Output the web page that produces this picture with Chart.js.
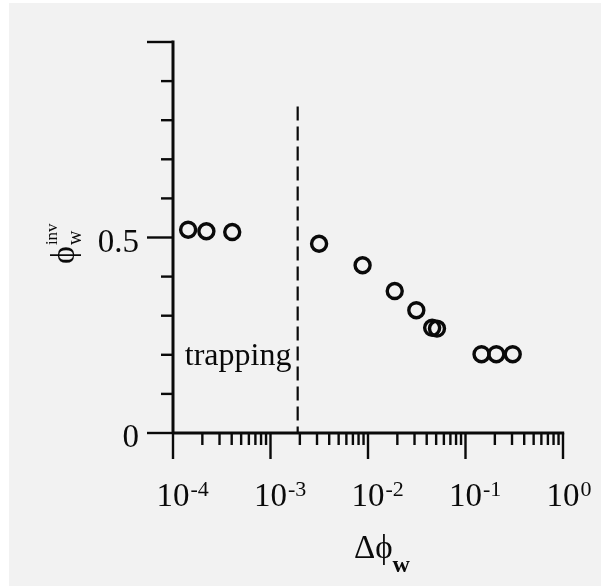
<!DOCTYPE html>
<html>
<head>
<meta charset="utf-8">
<script src="https://cdn.jsdelivr.net/npm/chart.js@4/dist/chart.umd.min.js"></script>
<style>
    html, body { margin: 0; padding: 0; background: #ffffff; }
    #frame { position: absolute; left: 9px; top: 3px; width: 592px; height: 583px; background: #f2f2f2; }
    #plot { position: absolute; left: 0; top: 0; }
</style>
</head>
<body>
<div id="frame"></div>
<canvas id="plot" width="601" height="586"></canvas>
<script>
// measured points (delta phi_w vs phi_w^inv)
const deltaPhi = [1.43e-4, 2.2e-4, 4.05e-4, 3.15e-3, 8.8e-3, 1.88e-2, 3.13e-2, 4.55e-2, 5.1e-2, 0.146, 0.207, 0.305];
const phiInv   = [0.520, 0.516, 0.514, 0.484, 0.429, 0.363, 0.314, 0.269, 0.267, 0.2015, 0.2015, 0.2015];

// axes
const xDecades = [1e-4, 1e-3, 1e-2, 1e-1, 1];
const xExponents = ['-4', '-3', '-2', '-1', '0'];
const xMinorSteps = [2, 3, 4, 5, 6, 7, 8, 9];
const yTickValues = [0, 0.1, 0.2, 0.3, 0.4, 0.5, 0.6, 0.7, 0.8, 0.9, 1.0];
const yMajorValues = [0, 0.5, 1.0];
const yLabelValues = [0, 0.5];
const yLabels = ['0', '0.5'];

// the "trapping" threshold
const trapX = 1.9e-3;
const trapTop = 0.835;
const trapLabel = 'trapping';
const trapLabelAt = { x: 1.32e-4, y: 0.1735 };

const INK = '#0a0a0a';
const SERIF = '"Liberation Serif", "Times New Roman", serif';

/**
 * Axes, ticks, labels and the dashed threshold, all placed via the chart scales
 */
const axesPlugin = {
    id: 'paperAxes',
    beforeDatasetsDraw(chart) {
        const ctx = chart.ctx;
        const xs = chart.scales.x;
        const ys = chart.scales.y;
        const left = chart.chartArea.left;
        const right = chart.chartArea.right;
        const top = chart.chartArea.top;
        const bottom = chart.chartArea.bottom;
        const major = 26, minor = 12;

        ctx.save();
        ctx.strokeStyle = INK;
        ctx.lineWidth = 3;
        ctx.lineCap = 'butt';

        // axis lines
        ctx.beginPath();
        ctx.moveTo(left, top - 1.5);
        ctx.lineTo(left, bottom);
        ctx.moveTo(left, bottom);
        ctx.lineTo(right + 1.2, bottom);
        ctx.stroke();

        // y ticks (pointing left)
        ctx.lineWidth = 2.4;
        yTickValues.forEach(v => {
            const y = ys.getPixelForValue(v);
            const len = yMajorValues.includes(v) ? major : minor;
            ctx.beginPath();
            ctx.moveTo(left - len, y);
            ctx.lineTo(left, y);
            ctx.stroke();
        });

        // x ticks (pointing down)
        xDecades.forEach((d, i) => {
            const x = xs.getPixelForValue(d);
            ctx.beginPath();
            ctx.moveTo(x, bottom);
            ctx.lineTo(x, bottom + major);
            ctx.stroke();
            if (i < xDecades.length - 1) {
                xMinorSteps.forEach(m => {
                    const xm = xs.getPixelForValue(d * m);
                    ctx.beginPath();
                    ctx.moveTo(xm, bottom);
                    ctx.lineTo(xm, bottom + minor);
                    ctx.stroke();
                });
            }
        });

        // dashed threshold line
        ctx.setLineDash([14, 6]);
        ctx.lineWidth = 2.2;
        const tx = xs.getPixelForValue(trapX);
        ctx.beginPath();
        ctx.moveTo(tx, ys.getPixelForValue(trapTop));
        ctx.lineTo(tx, bottom);
        ctx.stroke();
        ctx.setLineDash([]);

        ctx.fillStyle = INK;

        // x tick labels: 10 with superscript exponent
        xDecades.forEach((d, i) => {
            const x = xs.getPixelForValue(d);
            ctx.font = '33px ' + SERIF;
            ctx.textAlign = 'center';
            ctx.textBaseline = 'alphabetic';
            ctx.fillText('10', x, bottom + 73);
            const half = ctx.measureText('10').width / 2;
            ctx.font = '22px ' + SERIF;
            ctx.textAlign = 'left';
            ctx.fillText(xExponents[i], x + half + 1, bottom + 63);
        });

        // y tick labels
        ctx.font = '33px ' + SERIF;
        ctx.textAlign = 'right';
        yLabelValues.forEach((v, i) => {
            ctx.fillText(yLabels[i], left - 34, ys.getPixelForValue(v) + 14);
        });

        // trapping label
        ctx.textAlign = 'left';
        ctx.font = '32px ' + SERIF;
        ctx.fillText(trapLabel, xs.getPixelForValue(trapLabelAt.x), ys.getPixelForValue(trapLabelAt.y));

        // x title: delta phi_w
        ctx.font = '33px ' + SERIF;
        const tX = 354, tY = bottom + 125;
        ctx.fillText('Δϕ', tX, tY);
        const dw = ctx.measureText('Δϕ').width;
        ctx.font = 'bold 24px ' + SERIF;
        ctx.fillText('w', tX + dw, tY + 14);

        // y title: phi_w^inv, rotated
        ctx.translate(74, 264);
        ctx.rotate(-Math.PI / 2);
        ctx.font = '34px ' + SERIF;
        ctx.fillText('ϕ', 0, 0);
        const pw = ctx.measureText('ϕ').width;
        ctx.font = '20px ' + SERIF;
        ctx.fillText('w', pw + 1, 7);
        ctx.font = '17px ' + SERIF;
        ctx.fillText('inv', pw + 1, -17);

        ctx.restore();
    }
};

const points = deltaPhi.map((x, i) => ({ x: x, y: phiInv[i] }));

new Chart(document.getElementById('plot'), {
    type: 'scatter',
    data: {
        datasets: [{
            data: points,
            pointRadius: 7.5,
            pointBorderWidth: 3.4,
            pointBorderColor: INK,
            pointBackgroundColor: 'rgba(0,0,0,0)'
        }]
    },
    options: {
        responsive: false,
        animation: false,
        layout: { padding: { left: 173, top: 42, right: 38, bottom: 153 } },
        plugins: { legend: { display: false }, tooltip: { enabled: false } },
        scales: {
            x: { type: 'logarithmic', min: 1e-4, max: 1, display: false },
            y: { type: 'linear', min: 0, max: 1, display: false }
        }
    },
    plugins: [axesPlugin]
});
</script>
</body>
</html>
